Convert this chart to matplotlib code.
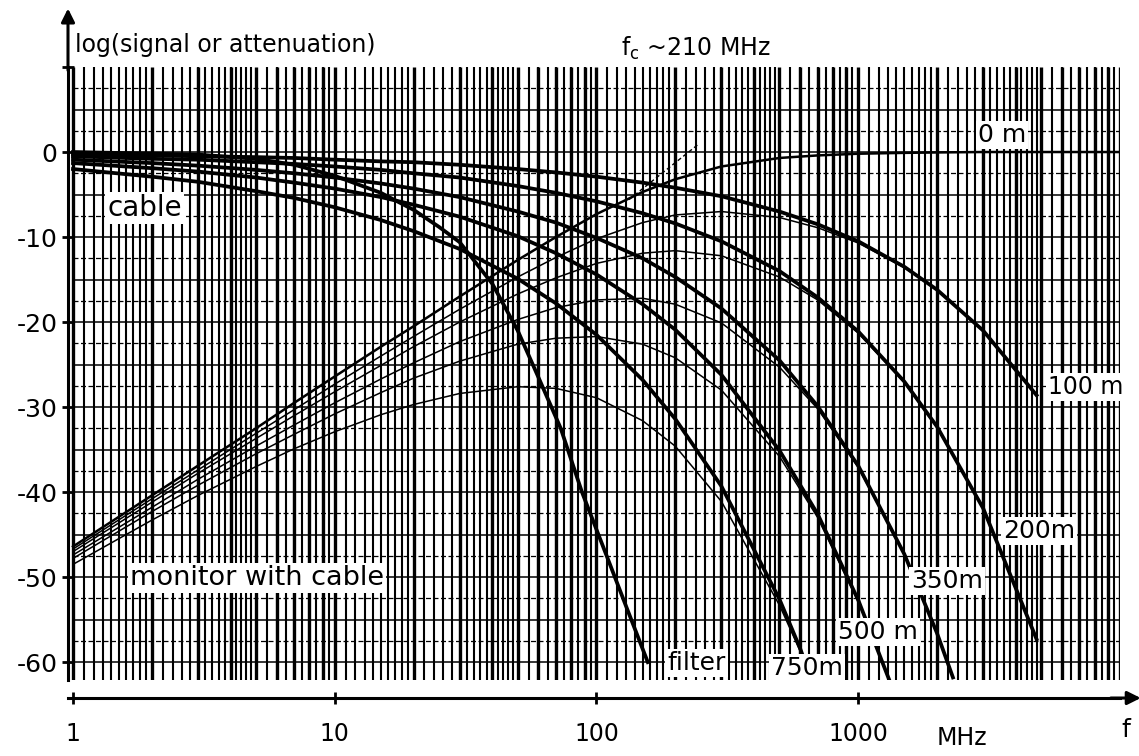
import numpy as np
import matplotlib
matplotlib.use("Agg")
from matplotlib import pyplot as plt
from matplotlib.ticker import NullLocator

# values (f in MHz, level in dB)
f_filter = [1, 3, 5, 7, 10, 15, 20, 25, 30, 40, 50, 60, 73, 88, 110, 130, 157]
filter_db = [0, -0.3, -0.8, -1.5, -2.8, -4.8, -6.8, -8.8, -10.6, -15.5, -21.0, -26.5, -32.5, -40.0, -47.7, -53.5, -60.0]

f_100 = [1, 2, 3, 5, 7, 10, 15, 20, 30, 50, 70, 100, 150, 200, 300, 500, 700, 1000, 1500, 2000, 3000, 4800]
cable_100 = [-0.3, -0.4, -0.5, -0.6, -0.7, -0.9, -1.1, -1.2, -1.5, -2.0, -2.4, -2.9, -3.6, -4.2, -5.2, -7.0, -8.5, -10.5, -13.5, -16.2, -21.0, -28.6]
mon_100 = [-46.7, -40.8, -37.4, -33.1, -30.3, -27.3, -24.0, -21.7, -18.5, -14.7, -12.4, -10.2, -8.3, -7.4, -7.0, -7.7, -8.9, -10.7, -13.6, -16.2, -21.0, -28.7]

f_200 = [1, 2, 3, 5, 7, 10, 15, 20, 30, 50, 70, 100, 150, 200, 300, 500, 700, 1000, 1500, 2000, 3000, 4800]
cable_200 = [-0.5, -0.8, -0.9, -1.2, -1.4, -1.7, -2.1, -2.5, -3.0, -4.0, -4.8, -5.8, -7.2, -8.4, -10.5, -14.0, -17.1, -21.1, -27.0, -32.3, -41.9, -57.3]
mon_200 = [-47.0, -41.2, -37.8, -33.7, -31.0, -28.2, -25.1, -22.9, -20.0, -16.7, -14.8, -13.1, -11.9, -11.6, -12.2, -14.7, -17.4, -21.3, -27.1, -32.4, -41.9, -57.3]

f_350 = [1, 2, 3, 5, 7, 10, 15, 20, 30, 50, 70, 100, 150, 200, 300, 500, 700, 1000, 1500, 2000, 2300]
cable_350 = [-0.9, -1.3, -1.6, -2.1, -2.5, -3.0, -3.7, -4.3, -5.3, -7.0, -8.3, -10.1, -12.5, -14.7, -18.4, -24.5, -29.9, -36.9, -47.3, -56.6, -61.8]
mon_350 = [-47.4, -41.8, -38.5, -34.6, -32.1, -29.5, -26.7, -24.8, -22.3, -19.7, -18.3, -17.4, -17.2, -17.9, -20.1, -25.3, -30.2, -37.1, -47.3, -56.6, -61.8]

f_500 = [1, 2, 3, 5, 7, 10, 15, 20, 30, 50, 70, 100, 150, 200, 300, 500, 700, 1000, 1310]
cable_500 = [-1.3, -1.9, -2.3, -3.0, -3.6, -4.3, -5.3, -6.2, -7.6, -9.9, -11.9, -14.4, -17.9, -20.9, -26.2, -35.1, -42.6, -52.7, -62.0]
mon_500 = [-47.8, -42.3, -39.2, -35.5, -33.2, -30.8, -28.3, -26.6, -24.6, -22.6, -21.9, -21.7, -22.6, -24.2, -28.0, -35.8, -43.0, -52.9, -62.0]

f_750 = [1, 2, 3, 5, 7, 10, 15, 20, 30, 50, 70, 100, 150, 200, 300, 500, 600, 660]
cable_750 = [-2.0, -2.9, -3.5, -4.6, -5.4, -6.5, -8.0, -9.3, -11.4, -14.9, -17.8, -21.5, -26.8, -31.4, -39.3, -52.6, -58.4, -62.0]
mon_750 = [-48.5, -43.3, -40.4, -37.0, -34.9, -32.9, -30.9, -29.7, -28.4, -27.6, -27.8, -28.9, -31.6, -34.6, -41.1, -53.3, -58.7, -62.0]

f_0 = [1, 2, 3, 5, 7, 10, 15, 20, 30, 50, 70, 100, 150, 200, 300, 500, 700, 1000, 1500, 2000, 3000, 5000, 10000]
mon_0 = [-46.4, -40.4, -36.9, -32.5, -29.5, -26.4, -22.9, -20.5, -17.0, -12.7, -10.0, -7.3, -4.7, -3.2, -1.7, -0.7, -0.4, -0.2, -0.1, -0.05, 0, 0, 0]

f_asym = [133, 247]
asym_db = [-5.6, 1.0]

x_ticks = [1, 10, 100, 1000]
x_ticklabels = ['1', '10', '100', '1000']
y_ticks = [10, 0, -10, -20, -30, -40, -50, -60]
y_ticklabels = ['', '0', '-10', '-20', '-30', '-40', '-50', '-60']

plt.rcParams['font.family'] = ['DejaVu Sans']

fig = plt.figure(figsize=(11.39, 7.56), dpi=100)
ax = fig.add_axes([68 / 1139, 76 / 756, 1052 / 1139, 613 / 756])
ax.set_xscale('log')
ax.set_xlim(10 ** (-5 / 262), 1e4)
ax.set_ylim(-62.1, 10)

# log paper
minor = np.concatenate([np.arange(1.1, 1.95, 0.1), np.arange(2.2, 4.95, 0.2), np.arange(5.5, 9.95, 0.5)])
xs_minor = np.concatenate([d * minor for d in [1, 10, 100, 1000]])
xs_major = np.concatenate([d * np.arange(1, 10) for d in [1, 10, 100, 1000]] + [[1e4]])
ax.vlines(xs_minor, -62.1, 10, color='black', lw=1.5, zorder=1)
ax.vlines(xs_major, -62.1, 10, color='black', lw=2.4, zorder=1)
ax.hlines(np.arange(-60, 9, 5), 1, 1e4, color='black', lw=1.1, zorder=1)
ax.hlines(np.arange(-57.5, 9, 5), 1, 1e4, color='black', lw=0.9, linestyles=(0, (4, 2)), zorder=1)

thick = dict(color='black', lw=2.7, zorder=3)
thin = dict(color='black', lw=1.1, zorder=3)
ax.plot(f_filter, filter_db, **thick)
for f, c, m in [(f_100, cable_100, mon_100), (f_200, cable_200, mon_200),
                (f_350, cable_350, mon_350), (f_500, cable_500, mon_500),
                (f_750, cable_750, mon_750)]:
    ax.plot(f, c, **thick)
    ax.plot(f, m, **thin)
ax.plot(f_0, mon_0, color='black', lw=1.8, zorder=3)
ax.plot(f_asym, asym_db, color='black', lw=1.0, ls=(0, (3, 2)), zorder=3)

box = dict(facecolor='white', edgecolor='none', pad=1.5)
lab = dict(fontsize=18, ha='center', va='center', bbox=box, zorder=5)
ax.text(1.88, -6.6, 'cable', **dict(lab, fontsize=20))
ax.text(5.04, -50.1, 'monitor with cable', **dict(lab, fontsize=19.5))
ax.text(241, -60.1, 'filter', **lab)
ax.text(639, -60.7, '750m', **lab)
ax.text(1192, -56.5, '500 m', **lab)
ax.text(2187, -50.5, '350m', **lab)
ax.text(4909, -44.6, '200m', **lab)
ax.text(7413, -27.6, '100 m', **dict(lab, fontsize=17))
ax.text(3545, 2.0, '0 m', **lab)

ax.text(1.02, 12.6, 'log(signal or attenuation)', fontsize=17, ha='left', va='center')
ax.text(124, 12.2, r'f$_\mathregular{c}$ ~210 MHz', fontsize=17, ha='left', va='center')

# axes
for s in ['top', 'right']:
    ax.spines[s].set_visible(False)
ax.spines['left'].set_linewidth(2.2)
ax.spines['bottom'].set_linewidth(2.2)
ax.spines['bottom'].set_position(('outward', 13))
ax.set_yticks(y_ticks)
ax.set_yticklabels(y_ticklabels)
ax.set_xticks(x_ticks)
ax.set_xticklabels(x_ticklabels)
ax.xaxis.set_minor_locator(NullLocator())
ax.tick_params(axis='y', direction='inout', length=9, width=2, labelsize=18, pad=3)
ax.tick_params(axis='x', direction='inout', length=8, width=2, labelsize=17, pad=13)

arrow = dict(arrowstyle='-|>', color='black', lw=2.2, mutation_scale=20)
ax.annotate('', xy=(0, 1.1), xytext=(0, 0.99), xycoords='axes fraction', arrowprops=arrow)
ax.annotate('', xy=(12300, -0.0294), xytext=(9000, -0.0294),
            xycoords=('data', 'axes fraction'), arrowprops=arrow)
ax.text(10540, -0.082, 'f', fontsize=18, ha='center', va='center', transform=ax.get_xaxis_transform())
ax.text(2495, -0.095, 'MHz', fontsize=17, ha='center', va='center', transform=ax.get_xaxis_transform())

fig.savefig('out.png', dpi=100)
